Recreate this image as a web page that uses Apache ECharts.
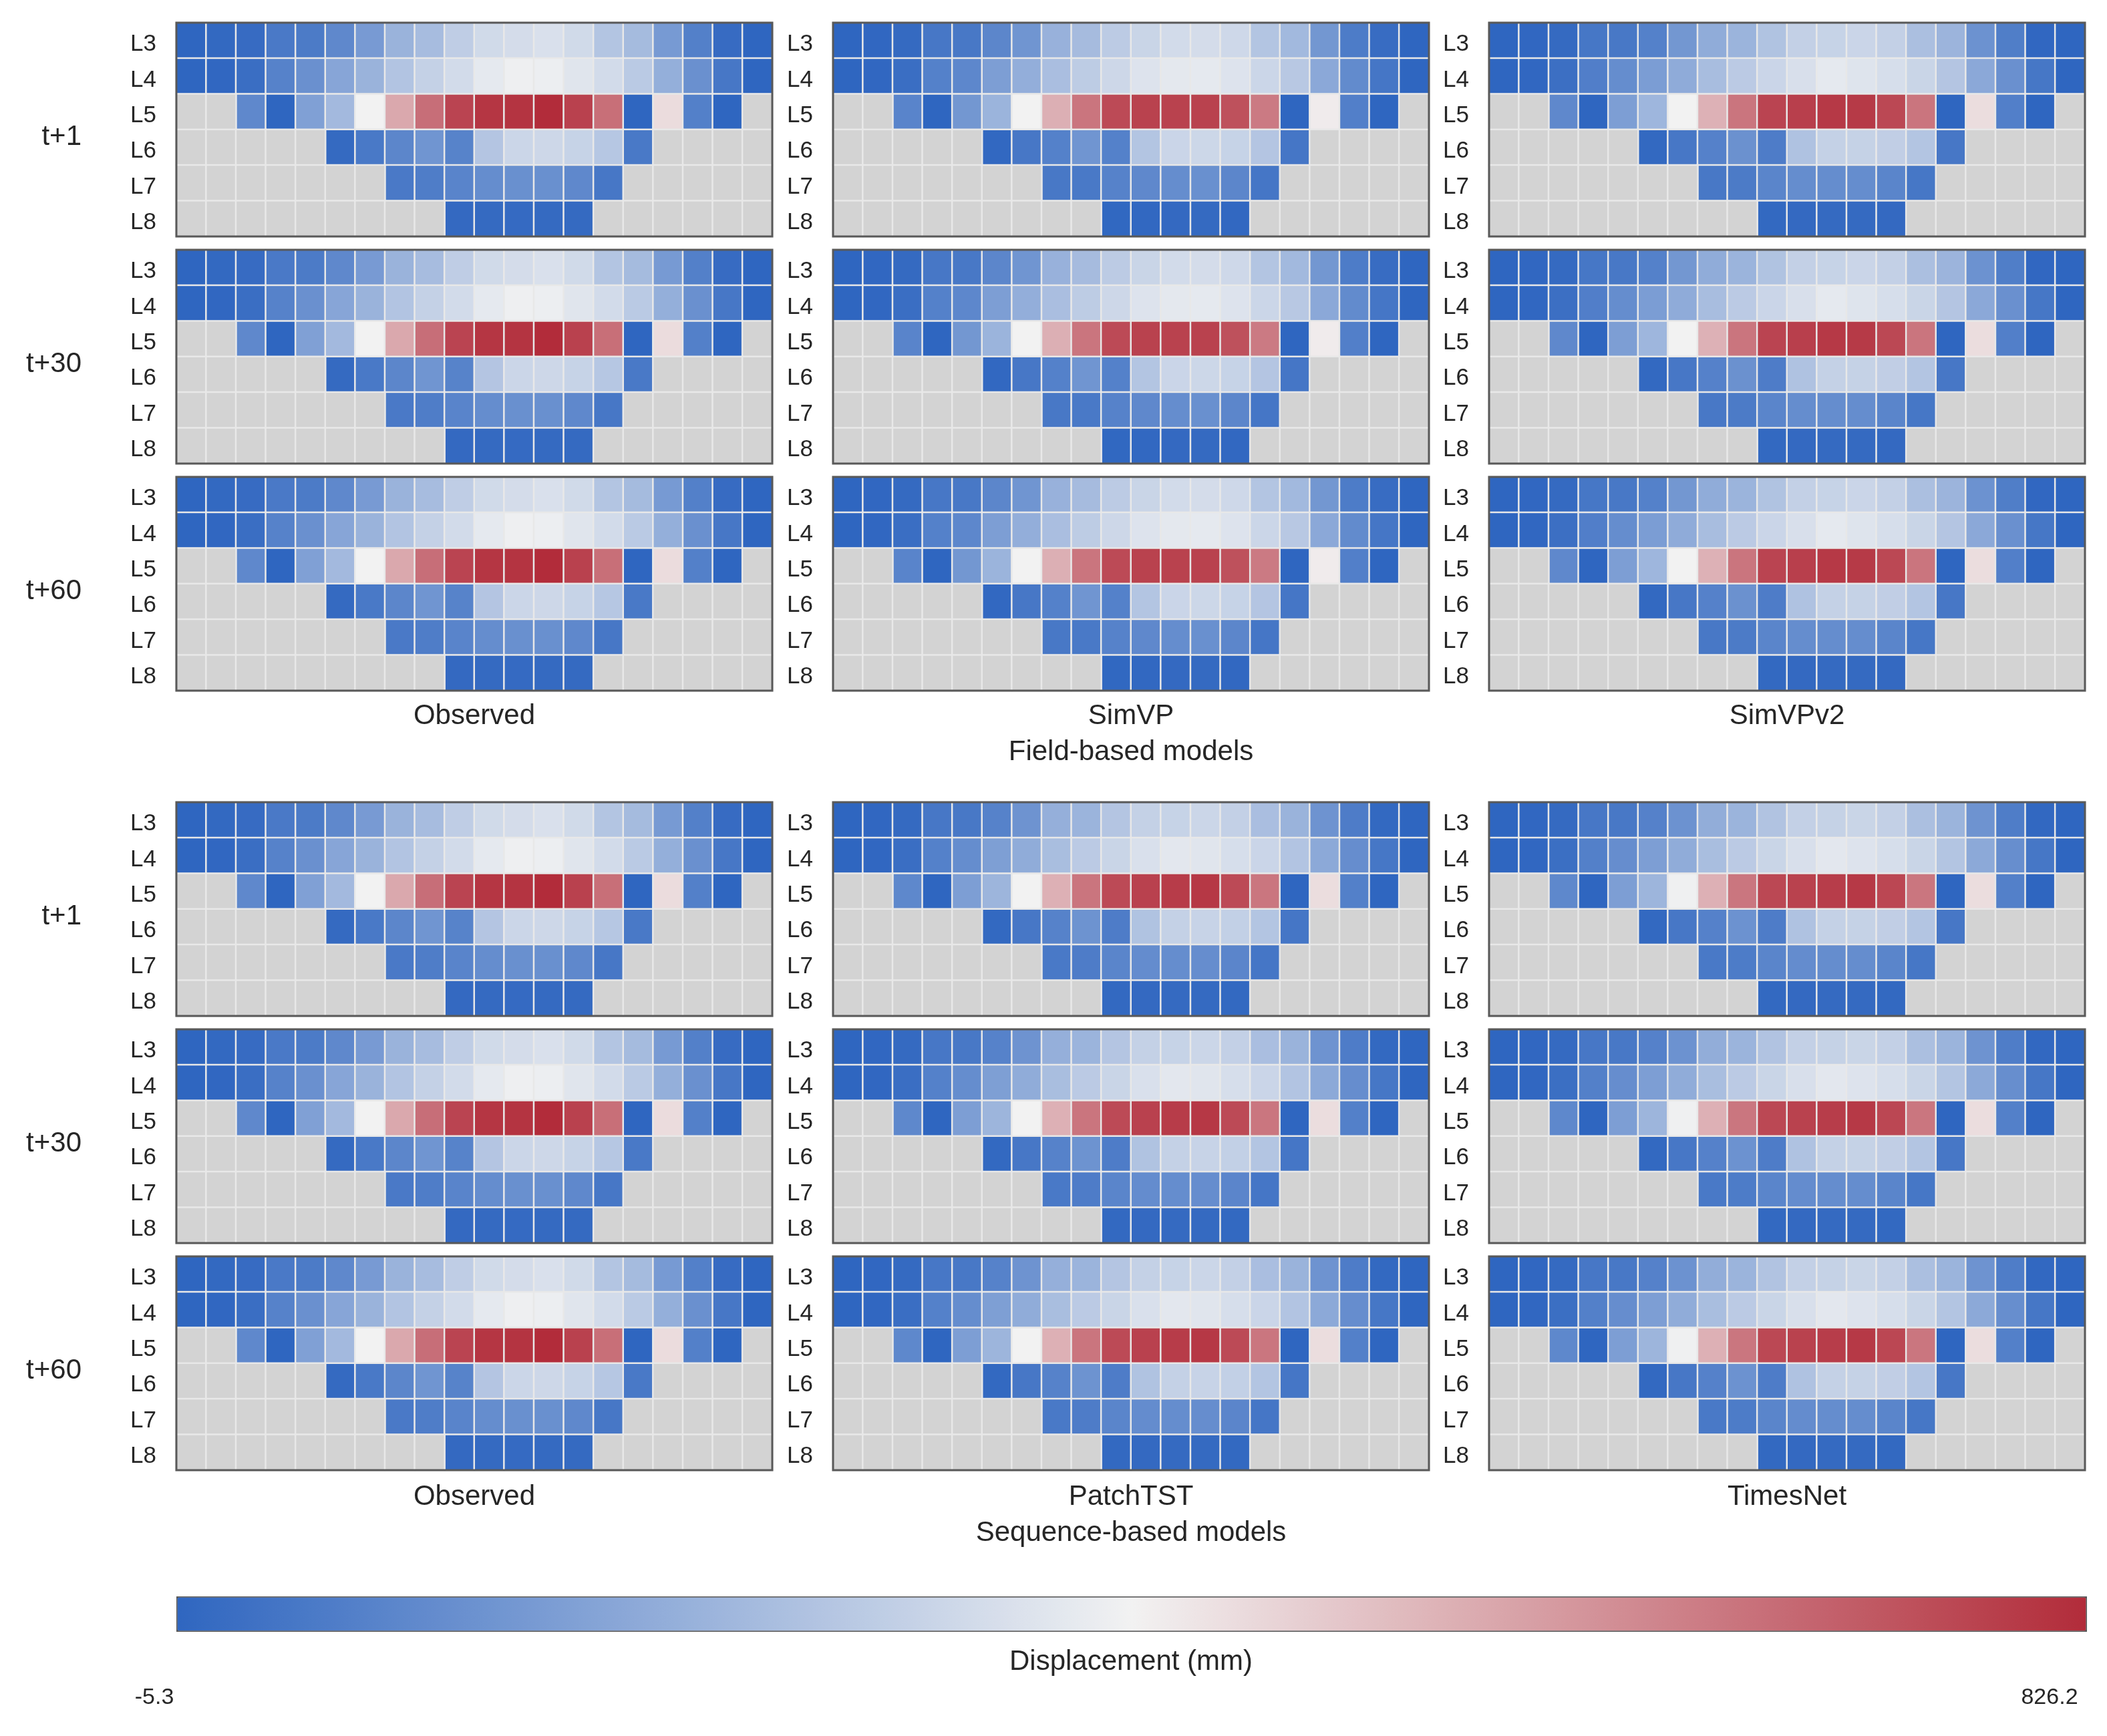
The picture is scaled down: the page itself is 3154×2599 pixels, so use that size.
<!DOCTYPE html>
<html><head><meta charset="utf-8">
<script src="https://cdn.jsdelivr.net/npm/echarts@6/dist/echarts.min.js"></script>
<style>html,body{margin:0;padding:0;background:#fff}#c{width:3154px;height:2599px}</style>
</head><body><div id="c"></div>
<script>
// ---------------- DATA ----------------
const levels = ['L3','L4','L5','L6','L7','L8'];
const columns = Array.from({length: 20}, (_, i) => String(i + 1));
const horizons = ['t+1','t+30','t+60'];
const fieldModels = ['Observed','SimVP','SimVPv2'];
const seqModels = ['Observed','PatchTST','TimesNet'];
const groupTitles = ['Field-based models','Sequence-based models'];
const colorbarTitle = 'Displacement (mm)';
const valueMin = -5.3;
const valueMax = 826.2;
const N = null;

const observed = [
  [-5.3, 3, 11, 52, 57, 97, 150, 222, 251, 302, 338, 346, 357, 338, 276, 247, 149, 71, 11, -5.3],
  [-5.3, -1, 18, 78, 120, 183, 222, 274, 312, 342, 383, 402, 398, 372, 342, 291, 210, 120, 46, -5.3],
  [N, N, 97, -5.3, 168, 242, 410, 566, 687, 775, 805, 810, 826.2, 782, 686, -5.3, 457, 71, -5.3, N],
  [N, N, N, N, N, 7, 50, 90, 133, 80, 278, 327, 331, 317, 282, 50, N, N, N, N],
  [N, N, N, N, N, N, N, 52, 63, 84, 110, 118, 118, 97, 46, N, N, N, N, N],
  [N, N, N, N, N, N, N, N, N, 5, 7, 8, 7, 7, N, N, N, N, N, N]
];
const simvp = [
  [-5.3, -1, 7, 46, 48, 90, 133, 218, 248, 295, 323, 342, 346, 334, 276, 240, 140, 59, 14, -5.3],
  [-5.3, -1, 18, 74, 93, 161, 208, 257, 297, 331, 366, 381, 383, 366, 327, 287, 191, 104, 41, -5.3],
  [N, N, 84, -5.3, 140, 225, 410, 551, 673, 763, 780, 780, 780, 749, 662, -5.3, 425, 69, -5.3, N],
  [N, N, N, N, N, 2, 46, 74, 133, 74, 276, 325, 329, 317, 278, 41, N, N, N, N],
  [N, N, N, N, N, N, N, 48, 50, 78, 97, 110, 118, 90, 41, N, N, N, N, N],
  [N, N, N, N, N, N, N, N, N, 0, 1, 5, 7, 1, N, N, N, N, N, N]
];
const simvpv2 = [
  [-5.3, -1, 7, 44, 48, 74, 140, 202, 225, 270, 310, 317, 325, 310, 259, 227, 125, 65, -1, -5.3],
  [-5.3, -1, 22, 67, 110, 157, 199, 253, 293, 325, 355, 383, 368, 351, 323, 278, 191, 120, 44, -5.3],
  [N, N, 97, -5.3, 161, 232, 410, 547, 673, 775, 786, 799, 797, 768, 673, -5.3, 455, 69, -5.3, N],
  [N, N, N, N, N, 3, 46, 76, 123, 61, 268, 312, 314, 305, 276, 46, N, N, N, N],
  [N, N, N, N, N, N, N, 48, 57, 86, 110, 110, 110, 86, 44, N, N, N, N, N],
  [N, N, N, N, N, N, N, N, N, 3, 5, 7, 7, 5, N, N, N, N, N, N]
];
const patchtst = [
  [-5.3, -1, 7, 46, 48, 78, 129, 212, 225, 278, 312, 317, 327, 310, 257, 223, 129, 61, 3, -5.3],
  [-5.3, -1, 18, 74, 110, 164, 202, 255, 293, 323, 357, 378, 372, 351, 325, 274, 193, 112, 44, -5.3],
  [N, N, 95, -5.3, 161, 229, 410, 549, 673, 763, 782, 793, 801, 763, 671, -5.3, 455, 71, -5.3, N],
  [N, N, N, N, N, 3, 46, 78, 127, 61, 270, 312, 319, 308, 276, 41, N, N, N, N],
  [N, N, N, N, N, N, N, 50, 61, 86, 107, 110, 112, 88, 41, N, N, N, N, N],
  [N, N, N, N, N, N, N, N, N, 3, 5, 7, 7, 3, N, N, N, N, N, N]
];
const timesnet = [
  [-5.3, -1, 7, 46, 48, 76, 125, 205, 225, 272, 310, 314, 323, 310, 259, 225, 129, 63, 2, -5.3],
  [-5.3, -1, 20, 72, 112, 161, 202, 255, 293, 323, 355, 378, 365, 351, 323, 276, 193, 114, 44, -5.3],
  [N, N, 95, -5.3, 161, 229, 405, 549, 671, 768, 780, 791, 799, 770, 671, -5.3, 455, 71, -5.3, N],
  [N, N, N, N, N, 3, 46, 76, 125, 61, 268, 312, 314, 305, 276, 46, N, N, N, N],
  [N, N, N, N, N, N, N, 50, 59, 86, 107, 110, 110, 86, 44, N, N, N, N, N],
  [N, N, N, N, N, N, N, N, N, 3, 5, 7, 7, 3, N, N, N, N, N, N]
];
// horizon -> model data (identical maps)
const fieldData = [[observed, simvp, simvpv2],[observed, simvp, simvpv2],[observed, simvp, simvpv2]];
const seqData = [[observed, patchtst, timesnet],[observed, patchtst, timesnet],[observed, patchtst, timesnet]];

// ---------------- LAYOUT ----------------
const FONT = "'Liberation Sans', Arial, sans-serif";
const TXT = '#262626';
const colLeft = [264, 1247, 2229];
const panelW = 892;
const panelH = 320;
const sectionRowTop = [[34, 374, 714], [1201, 1541, 1881]];
const modelLabelY = [1072, 2241];
const groupLabelY = [1126, 2295];

const grids = [], xAxes = [], yAxes = [], series = [], graphics = [];
const valueSeries = [], nanSeries = [];
const sections = [{models: fieldModels, data: fieldData}, {models: seqModels, data: seqData}];

sections.forEach((sec, s) => {
  horizons.forEach((hz, h) => {
    const top = sectionRowTop[s][h];
    graphics.push({type: 'text', style: {text: hz, x: 122, y: top + panelH / 2 + 11,
      textAlign: 'right', textVerticalAlign: 'middle', font: '42px ' + FONT, fill: TXT}});
    sec.models.forEach((mName, m) => {
      const gi = grids.length;
      grids.push({left: colLeft[m], top: top, width: panelW, height: panelH,
        show: true, borderColor: '#595959', borderWidth: 3, backgroundColor: 'transparent', z: 5});
      xAxes.push({type: 'category', gridIndex: gi, data: columns, show: false});
      yAxes.push({type: 'category', gridIndex: gi, data: levels, inverse: true,
        axisLine: {show: false}, axisTick: {show: false}, splitLine: {show: false},
        axisLabel: {margin: 30, formatter: '{a|{value}}',
          rich: {a: {fontSize: 35, fontFamily: FONT, color: TXT, padding: [12, 0, 0, 0]}}}});
      const grid = sec.data[h][m];
      const vals = [], nans = [];
      grid.forEach((row, yi) => row.forEach((v, xi) => {
        if (v === null) nans.push([xi, yi, 0]); else vals.push([xi, yi, v]);
      }));
      valueSeries.push(series.length);
      series.push({type: 'heatmap', xAxisIndex: gi, yAxisIndex: gi, data: vals, progressive: 0,
        itemStyle: {borderColor: '#e8e8e8', borderWidth: 2.5}, emphasis: {disabled: true}});
      nanSeries.push(series.length);
      series.push({type: 'heatmap', xAxisIndex: gi, yAxisIndex: gi, data: nans, progressive: 0,
        itemStyle: {color: '#d3d3d3', borderColor: '#e8e8e8', borderWidth: 2.5}, emphasis: {disabled: true}});
    });
  });
  sec.models.forEach((mName, m) => {
    graphics.push({type: 'text', style: {text: mName, x: colLeft[m] + panelW / 2, y: modelLabelY[s],
      textAlign: 'center', textVerticalAlign: 'middle', font: '42px ' + FONT, fill: TXT}});
  });
  graphics.push({type: 'text', style: {text: groupTitles[s], x: colLeft[1] + panelW / 2, y: groupLabelY[s],
    textAlign: 'center', textVerticalAlign: 'middle', font: '42px ' + FONT, fill: TXT}});
});

graphics.push({type: 'text', style: {text: colorbarTitle, x: colLeft[1] + panelW / 2, y: 2488,
  textAlign: 'center', textVerticalAlign: 'middle', font: '42px ' + FONT, fill: TXT}});
graphics.push({type: 'text', style: {text: String(valueMin), x: 231, y: 2542,
  textAlign: 'center', textVerticalAlign: 'middle', font: '34px ' + FONT, fill: TXT}});
graphics.push({type: 'text', style: {text: String(valueMax), x: 3068, y: 2542,
  textAlign: 'center', textVerticalAlign: 'middle', font: '34px ' + FONT, fill: TXT}});

const option = {
  backgroundColor: '#ffffff',
  animation: false,
  grid: grids, xAxis: xAxes, yAxis: yAxes, series: series,
  visualMap: [
    {type: 'continuous', min: valueMin, max: valueMax, seriesIndex: valueSeries, dimension: 2,
     orient: 'horizontal', left: 264, top: 2390, itemWidth: 50, itemHeight: colLeft[2] + panelW - 264,
     padding: 0, calculable: false, hoverLink: false, realtime: false, showLabel: false,
     borderColor: '#595959', borderWidth: 3,
     inRange: {color: ['#2F66C0', '#F2F2F2', '#B22C3A']}},
    {type: 'continuous', min: 0, max: 1, seriesIndex: nanSeries, dimension: 2, show: false,
     inRange: {color: ['#d3d3d3', '#d3d3d3']}}
  ],
  graphic: graphics
};
const chart = echarts.init(document.getElementById('c'));
chart.setOption(option);
</script></body></html>
